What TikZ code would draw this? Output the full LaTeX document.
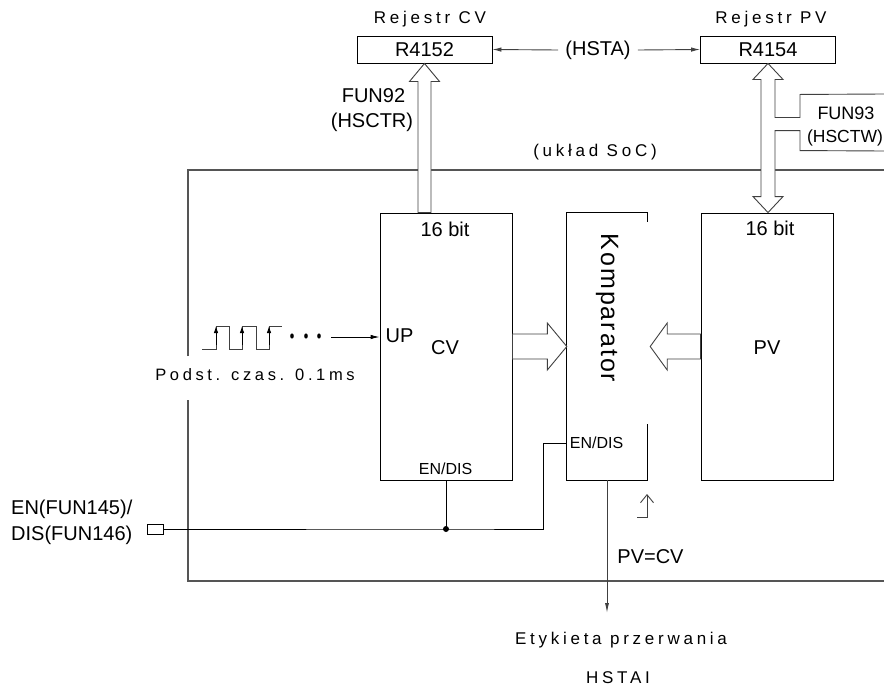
\documentclass[tikz,border=0pt]{standalone}
\usepackage{fontspec}
\setmainfont{Liberation Sans}
\newfontfamily\spfont[LetterSpace=22]{Liberation Sans}
\newfontfamily\kfont[LetterSpace=8]{Liberation Sans}
\usetikzlibrary{arrows.meta,calc}
\newcommand\fsz[1]{\fontsize{#1pt}{#1pt}\selectfont}
\definecolor{soccol}{HTML}{555555}
\definecolor{arrcol}{HTML}{404040}
\begin{document}
\begin{tikzpicture}[x=1pt,y=-1pt,
  reg/.style={draw, line width=0.9pt, minimum width=135pt, minimum height=27pt, inner sep=0pt, font=\fsz{20}},
  blk/.style={draw, line width=0.9pt, minimum width=132pt, minimum height=267pt, inner sep=0pt},
  lbl/.style={inner sep=0pt, font=\fsz{20}},
  small/.style={inner sep=0pt, font=\fsz{16}},
  sp/.style={inner sep=0pt, font=\spfont\fsz{17}},
  wire/.style={draw=black, line width=0.9pt},
  gwire/.style={draw=arrcol, line width=0.9pt},
  hollow/.style={draw=arrcol, line width=0.9pt, fill=white, line join=miter},
  soc/.style={draw=soccol, line width=1.2pt},
  tipA/.style={-{Latex[length=9pt,width=4.5pt]}},
]
\useasboundingbox (0,0) rectangle (884,691);

% SoC frame
\coordinate (sa) at (188,356);
\coordinate (sb) at (188,170);
\coordinate (sc) at (884,170);
\coordinate (sd) at (188,400);
\coordinate (se) at (188,581);
\coordinate (sf) at (884,581);
\draw[soc] (sa) -- (sb) -- (sc);
\draw[soc] (sd) -- (se) -- (sf);
\node[sp] (soct) at (595,152) {(układ SoC)};

% registers
\node[reg] (r1) at (424.5,49.5) {R4152};
\node[reg] (r2) at (768,49.5) {R4154};
\node[sp] (t1) at (430,19) {Rejestr CV};
\node[sp] (t2) at (771,19) {Rejestr PV};
\node[lbl, inner xsep=7pt] (hsta) at (598,50) {(HSTA)};
\draw[gwire, tipA] (hsta.west) -- (r1.east);
\draw[gwire, tipA] (hsta.east) -- (r2.west);

% blocks
\node[blk] (cv) at (446,346.5) {};
\node[blk] (pv) at (767,346.5) {};
\node[inner sep=0pt, minimum width=80pt, minimum height=267pt] (cmp) at (607,346.5) {};
\draw[wire] ($(cmp.north east)+(0,9)$) -- (cmp.north east) -- (cmp.north west) -- (cmp.south west) -- (cmp.south east) -- ($(cmp.south east)+(0,-56)$);

\node[lbl] (cvbit) at (445,229) {16 bit};
\node[lbl] (cvt) at (445,348) {CV};
\node[lbl] (upt) at (399.5,336) {UP};
\node[small] (cven) at (445.5,469) {EN/DIS};
\node[lbl] (pvbit) at (770,228) {16 bit};
\node[lbl] (pvt) at (767,348) {PV};
\node[small] (cmpen) at (596.5,442.5) {EN/DIS};
\node[inner sep=0pt, rotate=-90, font=\kfont\fsz{25}] (kt) at (607,308) {Komparator};

% FUN92
\node[lbl] (f92a) at (373.5,95.5) {FUN92};
\node[lbl] (f92b) at (372,122) {(HSCTR)};

% hollow arrow CV -> R4152
\coordinate (ub) at (r1.south |- cv.north);
\draw[hollow] (r1.south) -- ++(15,18) -- ++(-8.5,0) -- ($(ub)+(6.5,0)$) -- ($(ub)+(-6.5,0)$) -- ($(r1.south)+(-6.5,18)$) -- ++(-8.5,0) -- cycle;

% double hollow arrow R4154 <-> PV with FUN93 branch
\coordinate (dt) at (r2.south);
\coordinate (db) at (r2.south |- pv.north);
\coordinate (fe1) at (884,94);
\coordinate (fe2) at (884,151);
\path[fill=white] (dt) -- ($(dt)+(15,16)$) -- ($(dt)+(7,16)$) -- ($(dt)+(7,54)$) -- ($(dt)+(32,54)$) -- ($(dt)+(32,31)$) -- (fe1) -- (fe2) -- ($(db)+(32,-62)$) -- ($(db)+(32,-82)$) -- ($(db)+(7,-82)$) -- ($(db)+(7,-16)$) -- ($(db)+(15,-16)$) -- (db) -- ($(db)+(-15,-16)$) -- ($(db)+(-7,-16)$) -- ($(dt)+(-7,16)$) -- ($(dt)+(-15,16)$) -- cycle;
\draw[gwire, line join=miter] (fe1) -- ($(dt)+(32,31)$) -- ($(dt)+(32,54)$) -- ($(dt)+(7,54)$) -- ($(dt)+(7,16)$) -- ($(dt)+(15,16)$) -- (dt) -- ($(dt)+(-15,16)$) -- ($(dt)+(-7,16)$) -- ($(db)+(-7,-16)$) -- ($(db)+(-15,-16)$) -- (db) -- ($(db)+(15,-16)$) -- ($(db)+(7,-16)$) -- ($(db)+(7,-82)$) -- ($(db)+(32,-82)$) -- ($(db)+(32,-62)$) -- (fe2);
\node[inner sep=0pt, font=\fsz{18}] (f93a) at (846,113) {FUN93};
\node[inner sep=0pt, font=\fsz{17.5}] (f93b) at (845,138) {(HSCTW)};

% hollow arrows into comparator
\draw[hollow] (cmp.west) -- ++(-19.5,-23.5) -- ++(0,11) -- ($(cv.east)+(0,-12.5)$) -- ($(cv.east)+(0,12.5)$) -- ($(cmp.west)+(-19.5,12.5)$) -- ++(0,11) -- cycle;
\draw[hollow] ($(cmp.east)+(3,0)$) -- ++(17,-23.5) -- ++(0,11) -- ($(pv.west)+(0,-12.5)$) -- ($(pv.west)+(0,12.5)$) -- ($(cmp.east)+(20,12.5)$) -- ++(0,11) -- cycle;

% clock
\draw[gwire] (202,349) -- (216,349) -- (216,326) -- (229,326) -- (229,349) -- (242,349) -- (242,326) -- (256,326) -- (256,349) -- (269,349) -- (269,326) -- (282,326);
\foreach \xx in {216,242,269} \draw[wire, -{Latex[length=7pt,width=4.5pt]}] (\xx,345) -- (\xx,326);
\foreach \xx in {292,306,319} \fill (\xx,336) ellipse (1.8 and 2.6);
\coordinate (clk) at (331,337);
\draw[wire, tipA] (clk) -- (clk -| cv.west);
\node[inner sep=0pt, font=\spfont\fsz{16.5}] (podst) at (255,375) {Podst. czas. 0.1ms};

% EN/DIS wiring
\node[draw, line width=0.8pt, minimum width=16pt, minimum height=10pt, inner sep=0pt] (term) at (155,529) {};
\coordinate (jn) at (cv.south |- term.east);
\coordinate (bend) at (543,529);
\coordinate (cmpin) at ($(cmp.south west)+(0,-37)$);
\draw[wire] (term.east) -- (jn) -- (bend) |- (cmpin);
\draw[wire] (jn) -- (cv.south);
\fill (jn) circle (3);
\node[lbl, anchor=west] (en1) at (11,509) {EN(FUN145)/};
\node[lbl, anchor=west] (en2) at (11,535) {DIS(FUN146)};

% output
\coordinate (outend) at (cmp.south |- 0,613);
\draw[gwire, -{Latex[length=10pt,width=4pt]}] (cmp.south) -- (outend);
\coordinate (re) at (637,517);
\draw[gwire, -{Straight Barb[length=8pt,width=13pt]}] (re) -- ++(10,0) -- ++(0,-23);
\node[lbl] (pvcv) at (650.5,556.5) {PV=CV};
\node[sp] (ety) at (621,640) {Etykieta przerwania};
\node[sp] (hstai) at (618,678) {HSTAI};
\end{tikzpicture}
\end{document}
